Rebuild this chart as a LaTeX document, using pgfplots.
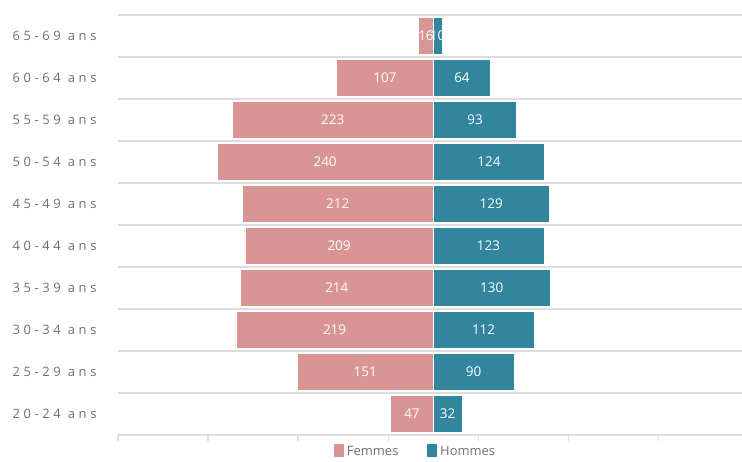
\documentclass[border=0pt]{standalone}
\usepackage{pgfplots}
\pgfplotsset{compat=1.18}
\usepackage{pgfplotstable}
\usepackage{fontspec}
\setmainfont{Open Sans}
\newfontfamily\spaced[LetterSpace=28]{Open Sans}
\definecolor{fem}{RGB}{217,149,148}
\definecolor{hom}{RGB}{49,133,156}
\definecolor{gridc}{RGB}{222,222,222}
\definecolor{lab}{RGB}{110,110,110}
\pgfplotstableread{
y f m
0 47 32
1 151 90
2 219 112
3 214 130
4 209 123
5 212 129
6 240 124
7 223 93
8 107 64
9 16 10
}\data
\begin{document}
\begin{tikzpicture}
\begin{axis}[
  name=ax,
  scale only axis, width=624bp, height=420bp,
  xmin=-350, xmax=343, ymin=-0.5, ymax=9.5,
  clip=false,
  ytick={0,...,9},
  yticklabels={20-24 ans,25-29 ans,30-34 ans,35-39 ans,40-44 ans,45-49 ans,50-54 ans,55-59 ans,60-64 ans,65-69 ans},
  yticklabel style={font=\spaced\fontsize{13}{15}\selectfont, text=lab, anchor=east, xshift=-12bp},
  minor ytick={-0.5,0.5,...,9.5},
  yminorgrids=true,
  minor grid style={draw=gridc, line width=1.6bp},
  axis line style={draw=none},
  y tick style={draw=none},
  minor y tick style={draw=none},
  xtick={-350,-250,...,250},
  xticklabels={},
  xtick pos=left,
  tick align=outside,
  major tick length=6bp,
  x tick style={draw=gridc, line width=1.2bp},
  legend style={at={(axis cs:-20,-0.5)}, anchor=north, yshift=-7bp, draw=none, fill=none,
    legend columns=2, font=\fontsize{13}{14}\selectfont, text=lab, inner sep=1bp,
    /tikz/every even column/.append style={column sep=26bp}},
  legend image code/.code={\fill[#1] (0bp,-6bp) rectangle (11bp,8bp);},
]
\addplot[xbar, bar width=0.87, bar shift=0pt, fill=fem, draw=white, line width=0.8bp]
  table[x expr=-\thisrow{f}, y=y] {\data};
\addlegendentry{Femmes}
\addplot[xbar, bar width=0.87, bar shift=0pt, fill=hom, draw=white, line width=0.8bp]
  table[x=m, y=y] {\data};
\addlegendentry{Hommes}
\addplot[draw=none, forget plot, nodes near coords, point meta=explicit symbolic,
  every node near coord/.style={anchor=center, text=white, font=\fontsize{13.5}{15}\selectfont}]
  table[x expr=-\thisrow{f}/2, y=y, meta=f] {\data};
\addplot[draw=none, forget plot, nodes near coords, point meta=explicit symbolic,
  every node near coord/.style={anchor=center, text=white, font=\fontsize{13.5}{15}\selectfont}]
  table[x expr=\thisrow{m}/2, y=y, meta=m] {\data};
\end{axis}
\pgfresetboundingbox
\path[use as bounding box] ([shift={(-118bp,-27bp)}]ax.south west) rectangle ([shift={(0bp,15bp)}]ax.north east);
\end{tikzpicture}
\end{document}
